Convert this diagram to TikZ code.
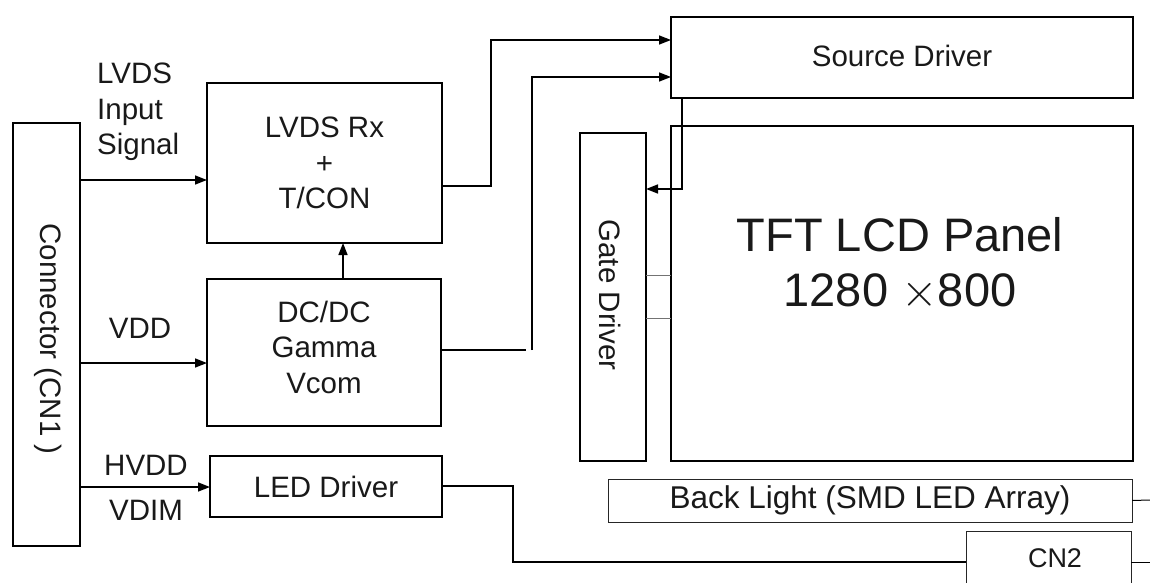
\RequirePackage{fix-cm}
\documentclass[tikz,border=0pt]{standalone}
\usepackage{fontspec}
\setmainfont{Liberation Sans}
\usetikzlibrary{arrows.meta}
\begin{document}
\begin{tikzpicture}[x=1pt,y=-1pt,
  box/.style={draw=black,line width=1.6pt,inner sep=0pt,outer sep=0pt},
  thinbox/.style={draw=black!85,line width=1pt,inner sep=0pt,outer sep=0pt},
  lbl/.style={font=\fontsize{29.5}{35.5}\selectfont,text=black!90,inner sep=0pt},
  wire/.style={line width=1.6pt},
  arr/.style={line width=1.6pt,-{Triangle[length=12pt,width=9pt]}},
  gline/.style={line width=1pt,draw=black!55}]
\useasboundingbox (0,0) rectangle (1150,583);
\clip (0,0) rectangle (1150,583);
% boxes
\node[box,minimum width=67pt,minimum height=423pt] (cn1) at (46.5,334.5) {};
\node[lbl,rotate=-90] (cn1t) at (48,339) {Connector (CN1 )};
\node[box,lbl,align=center,minimum width=235pt,minimum height=160pt] (lvds) at (324.5,163) {LVDS Rx\\+\\T/CON};
\node[box,minimum width=234pt,minimum height=147pt] (dcdc) at (324,352.5) {};
\node[lbl,align=center] (dcdct) at (324,347) {DC/DC\\Gamma\\Vcom};
\node[box,lbl,minimum width=232pt,minimum height=61pt] (led) at (326,486.5) {LED Driver};
\node[box,lbl,minimum width=462pt,minimum height=81pt] (src) at (902,57.5) {\raisebox{3pt}{Source Driver}};
\node[box,minimum width=66pt,minimum height=328pt] (gate) at (613,297) {};
\node[lbl,rotate=-90] (gatet) at (610,295) {Gate Driver};
\node[box,minimum width=462pt,minimum height=335pt] (panel) at (902,293.5) {};
\node[lbl,font=\fontsize{47}{55}\selectfont,align=center] (panelt) at (900,264) {TFT LCD Panel\\1280 $\times$800};
\node[thinbox,lbl,font=\fontsize{31.5}{36}\selectfont,minimum width=524pt,minimum height=43pt] (bl) at (870,500.5) {Back Light (SMD LED Array)};
\node[thinbox,minimum width=165pt,minimum height=80pt] (cn2) at (1048.5,571) {};
\node[lbl,font=\fontsize{27}{32}\selectfont] (cn2t) at (1055,558) {CN2};
% left labels
\node[lbl,anchor=west,align=left] (lvdsin) at (97,112) {LVDS\\Input\\Signal};
\node[lbl] (vdd) at (140,328) {VDD};
\node[lbl] (hvdd) at (146,465) {HVDD};
\node[lbl] (vdim) at (146,510) {VDIM};
% free ends
\coordinate (blend) at (1150,500);
\coordinate (cn2end) at (1150,562);
% connectors
\draw[arr] (cn1.east |- 0,180) -- (lvds.west |- 0,180);
\draw[arr] (cn1.east |- 0,363) -- (dcdc.west |- 0,363);
\draw[arr] (cn1.east |- 0,487) -- (led.west |- 0,487);
\draw[arr] (dcdc.north -| 343,0) -- (lvds.south -| 343,0);
\draw[arr] (lvds.east |- 0,186) -- (491,186) -- (491,40) -- (src.west |- 0,40);
\draw[wire] (dcdc.east |- 0,350) -- (526,350);
\draw[arr] (532,350) -- (532,77) -- (src.west |- 0,77);
\draw[arr] (src.south -| 682,0) -- (682,189) -- (gate.east |- 0,189);
\draw[gline] (gate.east |- 0,275) -- (panel.west |- 0,275);
\draw[gline] (gate.east |- 0,318) -- (panel.west |- 0,318);
\draw[wire,line width=1.3pt] (led.east |- 0,486) -- (513,486) -- (513,562) -- (cn2.west |- 0,562);
\draw[line width=1pt] (bl.east) -- (blend);
\draw[line width=1pt] (cn2.east |- 0,562) -- (cn2end);
\end{tikzpicture}
\end{document}
